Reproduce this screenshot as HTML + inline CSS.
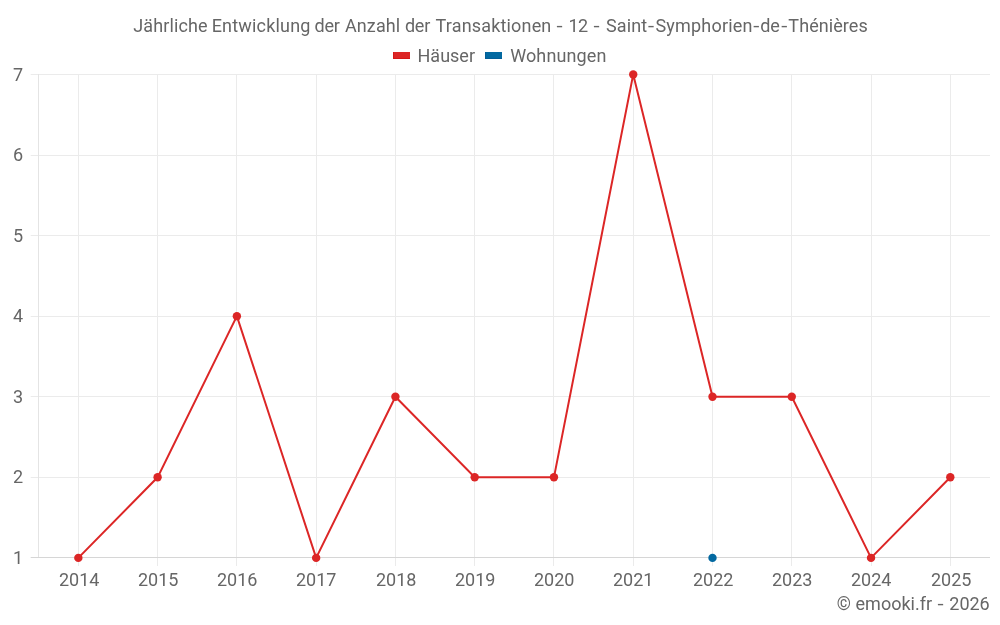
<!DOCTYPE html>
<html><head><meta charset="utf-8"><title>Jährliche Entwicklung der Anzahl der Transaktionen - 12 - Saint-Symphorien-de-Thénières</title>
<style>
html,body{margin:0;padding:0;background:#fff;}
body{width:1000px;height:625px;overflow:hidden;}
svg{display:block;will-change:transform;}
text{font-family:Roboto, 'Liberation Sans', sans-serif;font-size:18px;fill:#666;}
</style></head><body>
<svg width="1000" height="625" viewBox="0 0 1000 625">
<rect x="0" y="0" width="1000" height="625" fill="#fff"/>

<text x="133.33" y="31.5" textLength="74.12">Jährliche</text>
<text x="211.71" y="31.5" textLength="98.72">Entwicklung</text>
<text x="314.57" y="31.5" textLength="25.30">der</text>
<text x="344.95" y="31.5" textLength="55.23">Anzahl</text>
<text x="404.97" y="31.5" textLength="25.30">der</text>
<text x="435.56" y="31.5" textLength="115.76">Transaktionen</text>
<text transform="translate(556.49 31.5) scale(1.22 1)">-</text>
<text x="568.50" y="31.5" textLength="19.67">12</text>
<text transform="translate(593.59 31.5) scale(1.22 1)">-</text>
<text x="605.99" y="31.5" textLength="41.24">Saint</text>
<text transform="translate(647.99 31.5) scale(1.22 1)">-</text>
<text x="655.49" y="31.5" textLength="96.93">Symphorien</text>
<text transform="translate(753.19 31.5) scale(1.22 1)">-</text>
<text x="760.37" y="31.5" textLength="19.49">de</text>
<text transform="translate(781.19 31.5) scale(1.22 1)">-</text>
<text x="788.36" y="31.5" textLength="79.33">Thénières</text>
<rect x="393" y="52" width="17" height="7" fill="#dc2626"/><rect x="393" y="52" width="1" height="7" fill="#d51818"/><rect x="393" y="58" width="17" height="1" fill="#d51818"/>
<text x="417.51" y="61.5">Häuser</text>
<rect x="485" y="52" width="17" height="7" fill="#0369a1"/><rect x="485" y="52" width="1" height="7" fill="#035e97"/><rect x="485" y="58" width="17" height="1" fill="#035e97"/>
<text x="510.16" y="61.5" textLength="96.3">Wohnungen</text>
<path d="M30.7 477.5H990 M30.7 396.5H990 M30.7 316.5H990 M30.7 235.5H990 M30.7 155.5H990 M30.7 74.5H990 M78.5 74V566 M157.5 74V566 M236.5 74V566 M316.5 74V566 M395.5 74V566 M474.5 74V566 M553.5 74V566 M633.5 74V566 M712.5 74V566 M791.5 74V566 M871.5 74V566 M950.5 74V566" stroke="#ebebeb" stroke-width="1" fill="none"/>
<path d="M38.5 74V558" stroke="#e4e4e4" stroke-width="1" fill="none"/>
<path d="M30.7 557.5H990" stroke="#d6d6d6" stroke-width="1" fill="none"/>
<text x="23" y="563.50" text-anchor="end">1</text>
<text x="23" y="483.00" text-anchor="end">2</text>
<text x="23" y="402.50" text-anchor="end">3</text>
<text x="23" y="322.00" text-anchor="end">4</text>
<text x="23" y="241.50" text-anchor="end">5</text>
<text x="23" y="161.00" text-anchor="end">6</text>
<text x="23" y="80.50" text-anchor="end">7</text>
<text x="59" y="585.6">2014</text>
<text x="138" y="585.6">2015</text>
<text x="217" y="585.6">2016</text>
<text x="296" y="585.6">2017</text>
<text x="376" y="585.6">2018</text>
<text x="455" y="585.6">2019</text>
<text x="534" y="585.6">2020</text>
<text x="613" y="585.6">2021</text>
<text x="693" y="585.6">2022</text>
<text x="772" y="585.6">2023</text>
<text x="851" y="585.6">2024</text>
<text x="931" y="585.6">2025</text>
<polyline points="78.34,557.90 157.61,477.32 236.88,316.16 316.15,557.90 395.42,396.74 474.69,477.32 553.96,477.32 633.23,74.42 712.50,396.74 791.77,396.74 871.04,557.90 950.31,477.32" fill="none" stroke="#dc2626" stroke-width="2" stroke-linejoin="miter"/>
<circle cx="78.34" cy="557.90" r="4.2" fill="#dc2626"/>
<circle cx="157.61" cy="477.32" r="4.2" fill="#dc2626"/>
<circle cx="236.88" cy="316.16" r="4.2" fill="#dc2626"/>
<circle cx="316.15" cy="557.90" r="4.2" fill="#dc2626"/>
<circle cx="395.42" cy="396.74" r="4.2" fill="#dc2626"/>
<circle cx="474.69" cy="477.32" r="4.2" fill="#dc2626"/>
<circle cx="553.96" cy="477.32" r="4.2" fill="#dc2626"/>
<circle cx="633.23" cy="74.42" r="4.2" fill="#dc2626"/>
<circle cx="712.50" cy="396.74" r="4.2" fill="#dc2626"/>
<circle cx="791.77" cy="396.74" r="4.2" fill="#dc2626"/>
<circle cx="871.04" cy="557.90" r="4.2" fill="#dc2626"/>
<circle cx="950.31" cy="477.32" r="4.2" fill="#dc2626"/>
<circle cx="712.50" cy="557.90" r="4.2" fill="#0369a1"/>
<text x="836.79" y="610">©</text>
<text x="855.58" y="610">emooki.fr</text>
<text transform="translate(937.39 610) scale(1.22 1)">-</text>
<text x="949.27" y="610">2026</text>
</svg></body></html>
